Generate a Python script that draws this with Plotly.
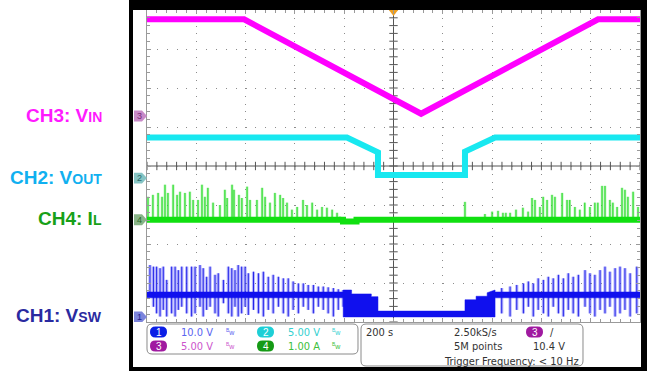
import plotly.graph_objects as go

W, H = 647, 371

# ---------------- channel settings (units per division, ground marker in divisions)
ch_scale = {"CH1": 10.0, "CH2": 5.0, "CH3": 5.0, "CH4": 1.0}
ch_pos = {"CH1": -3.87, "CH2": -0.31, "CH3": 1.28, "CH4": -1.38}

# ---------------- CH3: VIN (V) vs time (s)
vin_t = [-1000, -606, 112, 830, 1000]
vin_v = [12.4, 12.4, 0.3, 12.4, 12.4]

# ---------------- CH2: VOUT (V)
vout_t = [-1000, -189, -63, -63, 290, 290, 412, 1000]
vout_v = [5.2, 5.2, 3.3, 0.4, 0.4, 3.4, 5.2, 5.2]

# ---------------- CH4: IL (A) baseline and spikes
il_t = [-1000, -205, -205, -150, -150, 290, 290, 420, 420, 1000]
il_a = [0.0, 0.0, -0.04, -0.04, 0.0, 0.0, -0.03, -0.03, 0.0, 0.0]
il_spk_t = [-996, -976, -955, -939, -927, -915, -894, -878, -866, -846, -826, -813,
            -793, -777, -765, -753, -732, -704, -684, -675, -655, -647, -627, -615,
            -594, -582, -554, -533, -521, -501, -481, -460, -448, -432, -412, -391,
            -367, -351, -330, -310, -290, -270, -249, -229, -217,
            290, 371, 400, 424, 444, 456, 473, 497, 525, 546, 562, 574, 594, 607,
            623, 643, 655, 684, 704, 715, 736, 756, 776, 797, 817, 829, 846, 858,
            878, 890, 907, 927, 939, 951, 972, 992]
il_spk_a = [0.59, 0.64, 0.69, 0.59, 0.90, 0.69, 0.90, 0.64, 0.72, 0.69, 0.72, 0.51,
            0.51, 0.90, 0.59, 0.82, 0.44, 0.38, 0.77, 0.56, 0.90, 0.77, 0.64, 0.56,
            0.85, 0.51, 0.51, 0.82, 0.59, 0.44, 0.69, 0.64, 0.56, 0.44, 0.26, 0.33,
            0.51, 0.38, 0.44, 0.26, 0.33, 0.31, 0.26, 0.18, 0.08,
            0.46, 0.15, 0.21, 0.23, 0.18, 0.18, 0.18, 0.26, 0.31, 0.21, 0.56, 0.51,
            0.33, 0.59, 0.51, 0.64, 0.59, 0.69, 0.51, 0.51, 0.33, 0.26, 0.44, 0.33,
            0.44, 0.44, 0.87, 0.87, 0.51, 0.44, 0.33, 0.82, 0.77, 0.59, 0.72, 0.33]

# ---------------- CH1: VSW (V) switching band envelope and spikes
vsw_t = [-1000, -204, -204, -170, -170, -90, -90, -63, -63, 290, 290, 335, 335,
         380, 380, 412, 412, 1000]
vsw_hi = [6.4, 6.4, 6.9, 6.9, 5.9, 5.9, 5.2, 5.2, 1.5, 1.5, 4.4, 4.4, 5.3,
          5.3, 6.2, 6.9, 6.4, 6.4]
vsw_lo = [4.9, 4.9, 0.0, 0.0, 0.0, 0.0, 0.0, 0.0, 0.0, 0.0, 0.0, 0.0,
          0.0, 0.0, 0.0, 0.0, 4.9, 4.9]
vsw_spk_t = [-988, -974, -961, -947, -934, -920, -900, -886, -873, -859, -839, -819,
             -805, -785, -772, -758, -744, -724, -711, -690, -670, -656, -643, -630,
             -616, -602, -589, -568, -548, -528, -508, -488, -467, -447, -427, -407,
             -386, -366, -346, -325, -305, -285, -265, -244, -224, -204,
             439, 473, 500, 527, 547, 567, 587, 608, 628, 648, 669, 689, 709, 729,
             750, 777, 797, 817, 838, 858, 878, 899, 919, 939, 960, 987]
vsw_spk_hi = [13.3, 12.9, 12.9, 12.5, 12.9, 9.5, 12.9, 12.9, 12.0, 12.9, 12.9, 12.9,
              12.9, 13.3, 12.5, 10.3, 12.9, 10.8, 11.2, 9.5, 12.9, 12.5, 12.0, 13.3,
              12.9, 12.9, 11.2, 11.6, 11.2, 11.6, 10.3, 10.8, 10.3, 9.9, 9.9, 9.1,
              8.6, 8.6, 8.2, 8.2, 7.8, 7.8, 7.6, 7.4, 7.1, 6.9,
              7.4, 7.8, 8.2, 8.6, 9.1, 8.6, 9.9, 9.5, 10.3, 9.9, 10.8, 9.9, 11.2, 10.3,
              10.8, 12.0, 11.2, 10.8, 12.0, 12.9, 11.6, 12.5, 12.9, 12.5, 11.2, 12.9]
vsw_spk_lo = [6.2, 2.6, 0.9, 0.1, 1.8, 0.1, 0.9, 0.1, 1.8, 2.6, 0.9, 0.1,
              0.9, 2.6, 0.1, 1.8, 2.6, 0.9, 0.1, 3.5, 0.9, 0.1, 2.6, 0.1,
              0.9, 2.6, 0.5, 1.8, 0.9, 0.1, 1.8, 0.9, 2.6, 0.9, 0.1, 1.8,
              0.9, 2.6, 1.8, 0.9, 2.6, 1.8, 0.9, 0.1, 1.8, 2.6,
              0.9, 0.1, 1.8, 0.9, 2.6, 0.1, 1.8, 0.9, 0.1, 2.6, 0.9, 0.1, 1.8, 0.9,
              0.1, 2.6, 0.9, 0.1, 1.8, 0.9, 2.6, 0.1, 0.9, 1.8, 0.1, 0.9]

# ---------------- labels / readouts
ch_names = {"CH3": ("V", "IN"), "CH2": ("V", "OUT"), "CH4": ("I", "L"), "CH1": ("V", "SW")}
ch_readout = {"CH1": "10.0 V", "CH2": "5.00 V", "CH3": "5.00 V", "CH4": "1.00 A"}
time_base = "200 s"
sample_rate = "2.50kS/s"
record_len = "5M points"
trig_level = "10.4 V"
trig_freq = "Trigger Frequency: < 10 Hz"


def div(ch, v):
    return v / ch_scale[ch] + ch_pos[ch]


def segs(ts, lo, hi, ch):
    xs, ys = [], []
    for t, a, b in zip(ts, lo, hi):
        xs += [t, t, None]
        ys += [div(ch, a), div(ch, b), None]
    return xs, ys


def px(x):
    return x / W


def py(y):
    return 1 - y / H


def P(x, y):
    return f"{px(x):.5f},{py(y):.5f}"


def rrect(x0, y0, x1, y1, r):
    return (f"M {P(x0 + r, y0)} L {P(x1 - r, y0)} Q {P(x1, y0)} {P(x1, y0 + r)} "
            f"L {P(x1, y1 - r)} Q {P(x1, y1)} {P(x1 - r, y1)} L {P(x0 + r, y1)} "
            f"Q {P(x0, y1)} {P(x0, y1 - r)} L {P(x0, y0 + r)} Q {P(x0, y0)} {P(x0 + r, y0)} Z")


def note(x, y, text, size, color, family, xa="center", ya="middle", xref="paper", yref="paper", yshift=0):
    return dict(x=x, y=y, xref=xref, yref=yref, text=text, showarrow=False, xanchor=xa,
                yanchor=ya, yshift=yshift, font=dict(size=size, color=color, family=family))


col = {"CH1": "#1010ee", "CH2": "#18e8f0", "CH3": "#ff00ff", "CH4": "#10e010"}

fig = go.Figure()

# graticule centre-line ticks
tick_x = [i * 40 for i in range(-25, 26)]
tick_y = [i * 0.2 for i in range(-20, 21)]
fig.add_trace(go.Scatter(x=tick_x, y=[0] * len(tick_x), mode="markers", hoverinfo="skip",
                         marker=dict(symbol="line-ns", size=6, line=dict(width=1, color="#555"))))
fig.add_trace(go.Scatter(x=[0] * len(tick_y), y=tick_y, mode="markers", hoverinfo="skip",
                         marker=dict(symbol="line-ew", size=6, line=dict(width=1, color="#555"))))

# CH1 spikes (under the band)
sx, sy = segs(vsw_spk_t, vsw_spk_lo, vsw_spk_hi, "CH1")
fig.add_trace(go.Scatter(x=sx, y=sy, mode="lines", line=dict(width=3.2, color="rgba(90,90,250,0.45)"),
                         hoverinfo="skip"))
fig.add_trace(go.Scatter(x=sx, y=sy, mode="lines", line=dict(width=1.0, color="rgba(20,20,230,0.9)"),
                         hoverinfo="skip"))
# CH1 band as a closed polygon
band_x = vsw_t + vsw_t[::-1]
band_y = [div("CH1", v) for v in vsw_hi] + [div("CH1", v) for v in vsw_lo[::-1]]
fig.add_trace(go.Scatter(x=band_x, y=band_y, mode="lines", fill="toself", fillcolor=col["CH1"],
                         line=dict(width=0.5, color=col["CH1"]), hoverinfo="skip"))

# CH4 spikes + baseline
sx, sy = segs(il_spk_t, [0.0] * len(il_spk_t), il_spk_a, "CH4")
fig.add_trace(go.Scatter(x=sx, y=sy, mode="lines", line=dict(width=2.6, color="rgba(90,230,90,0.5)"),
                         hoverinfo="skip"))
fig.add_trace(go.Scatter(x=sx, y=sy, mode="lines", line=dict(width=0.9, color="rgba(10,215,10,0.95)"),
                         hoverinfo="skip"))
fig.add_trace(go.Scatter(x=il_t, y=[div("CH4", v) for v in il_a], mode="lines",
                         line=dict(width=6, color=col["CH4"]), hoverinfo="skip"))

# CH2
fig.add_trace(go.Scatter(x=vout_t, y=[div("CH2", v) for v in vout_v], mode="lines",
                         line=dict(width=6, color=col["CH2"]), hoverinfo="skip"))
# CH3
fig.add_trace(go.Scatter(x=vin_t, y=[div("CH3", v) for v in vin_v], mode="lines",
                         line=dict(width=6, color=col["CH3"]), hoverinfo="skip"))

# trigger marker
fig.add_trace(go.Scatter(x=[0], y=[3.95], mode="markers", cliponaxis=False, hoverinfo="skip",
                         marker=dict(symbol="triangle-down", size=8, color="#f0a020")))

shapes = []
annotations = []

# centre lines
shapes.append(dict(type="line", xref="x", yref="y", x0=0, x1=0, y0=-4, y1=4,
                   line=dict(color="#555", width=1), layer="below"))
shapes.append(dict(type="line", xref="x", yref="y", x0=-1000, x1=1000, y0=0, y1=0,
                   line=dict(color="#555", width=1), layer="below"))

# black frame
for (x0, y0, x1, y1) in [(129, 0, 647, 10), (129, 0, 133, 371), (641, 0, 647, 371), (129, 367, 647, 371)]:
    shapes.append(dict(type="rect", xref="paper", yref="paper", x0=px(x0), x1=px(x1),
                       y0=py(y1), y1=py(y0), fillcolor="black", line=dict(width=0)))

# channel tabs at the left of the graticule
tab_fill = {"CH1": "#7c84dc", "CH2": "#86c4c4", "CH3": "#c88ac8", "CH4": "#88b488"}
tab_txt = {"CH1": "#22228a", "CH2": "#2a6a6a", "CH3": "#7a2a7a", "CH4": "#2a6a2a"}
for ch in ["CH1", "CH2", "CH3", "CH4"]:
    yc = ch_pos[ch]
    h = 0.14
    path = (f"M {px(134):.5f},{yc + h:.4f} L {px(142):.5f},{yc + h:.4f} L {px(147):.5f},{yc:.4f} "
            f"L {px(142):.5f},{yc - h:.4f} L {px(134):.5f},{yc - h:.4f} Z")
    shapes.append(dict(type="path", xref="paper", yref="y", path=path, fillcolor=tab_fill[ch],
                       line=dict(width=0)))
    annotations.append(note(px(139.5), yc, ch[-1], 9, tab_txt[ch], "Liberation Sans", yref="y"))

# left labels (small-caps style subscripts on the baseline)
lab_col = {"CH3": "#ff1aff", "CH2": "#10b0f0", "CH4": "#18a018", "CH1": "#2a2aa0"}
for ch in ["CH3", "CH2", "CH4", "CH1"]:
    main, sub = ch_names[ch]
    txt = f"<b>{ch}: {main}<span style='font-size:14px'>{sub}</span></b>"
    annotations.append(note(px(104), ch_pos[ch], txt, 19, lab_col[ch],
                            "Liberation Sans, Arial", xa="right", yref="y", yshift=1))

# readout panel
pfont = "Liberation Sans Narrow, DejaVu Sans Condensed, Arial Narrow, sans-serif"
shapes.append(dict(type="path", xref="paper", yref="paper", path=rrect(147, 324, 358, 354, 5),
                   line=dict(color="#8a8a8a", width=1), fillcolor="white"))
shapes.append(dict(type="path", xref="paper", yref="paper", path=rrect(361, 324, 583, 366, 5),
                   line=dict(color="#8a8a8a", width=1), fillcolor="white"))

pill_col = {"CH1": "#0a1ee6", "CH2": "#1ecfd6", "CH3": "#a01aa0", "CH4": "#159a15"}
val_col = {"CH1": "#5a64f0", "CH2": "#35d0d0", "CH3": "#cc55cc", "CH4": "#3cc03c"}
slots = {"CH1": (150, 332), "CH2": (257, 332), "CH3": (150, 346), "CH4": (257, 346)}
for ch, (x0, yc) in slots.items():
    shapes.append(dict(type="path", xref="paper", yref="paper", path=rrect(x0, yc - 5.5, x0 + 17, yc + 5.5, 5.5),
                       fillcolor=pill_col[ch], line=dict(width=0)))
    annotations.append(note(px(x0 + 8.5), py(yc), ch[-1], 10, "white", "Liberation Sans"))
    annotations.append(note(px(x0 + 29), py(yc), ch_readout[ch], 11, val_col[ch], pfont, xa="left"))
    annotations.append(note(px(x0 + 80), py(yc), "<sup>B</sup>w", 7, val_col[ch], "Liberation Sans"))

for txt, x, y, anc in [(time_base, 364, 332, "left"), (sample_rate, 452, 332, "left"),
                       (record_len, 452, 346, "left"), (trig_level, 531, 346, "left"),
                       (trig_freq, 581, 361, "right")]:
    annotations.append(note(px(x), py(y), txt, 11, "#333", pfont, xa=anc))
shapes.append(dict(type="path", xref="paper", yref="paper", path=rrect(526, 326.5, 543, 337.5, 5.5),
                   fillcolor=pill_col["CH3"], line=dict(width=0)))
annotations.append(note(px(534.5), py(332), "3", 10, "white", "Liberation Sans"))
annotations.append(note(px(552), py(332), "/", 11, "#333", pfont))

fig.update_layout(
    width=W, height=H, margin=dict(l=0, r=0, t=0, b=0),
    paper_bgcolor="white", plot_bgcolor="white", showlegend=False,
    shapes=shapes, annotations=annotations,
    xaxis=dict(domain=[px(147), px(640)], range=[-1000, 1000], dtick=200, showticklabels=False,
               showgrid=True, gridcolor="#8c8c8c", griddash="1px,6.8px", gridwidth=1,
               zeroline=False, showline=True, linecolor="#9a9a9a", linewidth=1, mirror="allticks",
               ticks="inside", ticklen=4, tickcolor="#9a9a9a",
               minor=dict(dtick=40, ticks="inside", ticklen=3, tickcolor="#9a9a9a", showgrid=False),
               fixedrange=True),
    yaxis=dict(domain=[py(322), py(10)], range=[-4, 4], dtick=1, showticklabels=False,
               showgrid=True, gridcolor="#8c8c8c", griddash="1px,8.86px", gridwidth=1,
               zeroline=False, showline=True, linecolor="#9a9a9a", linewidth=1, mirror="allticks",
               ticks="inside", ticklen=4, tickcolor="#9a9a9a",
               minor=dict(dtick=0.2, ticks="inside", ticklen=3, tickcolor="#9a9a9a", showgrid=False),
               fixedrange=True),
)

fig.write_html("out.html", config={"displayModeBar": False},
               post_script="document.body.style.margin='0';document.body.style.overflow='hidden';")
